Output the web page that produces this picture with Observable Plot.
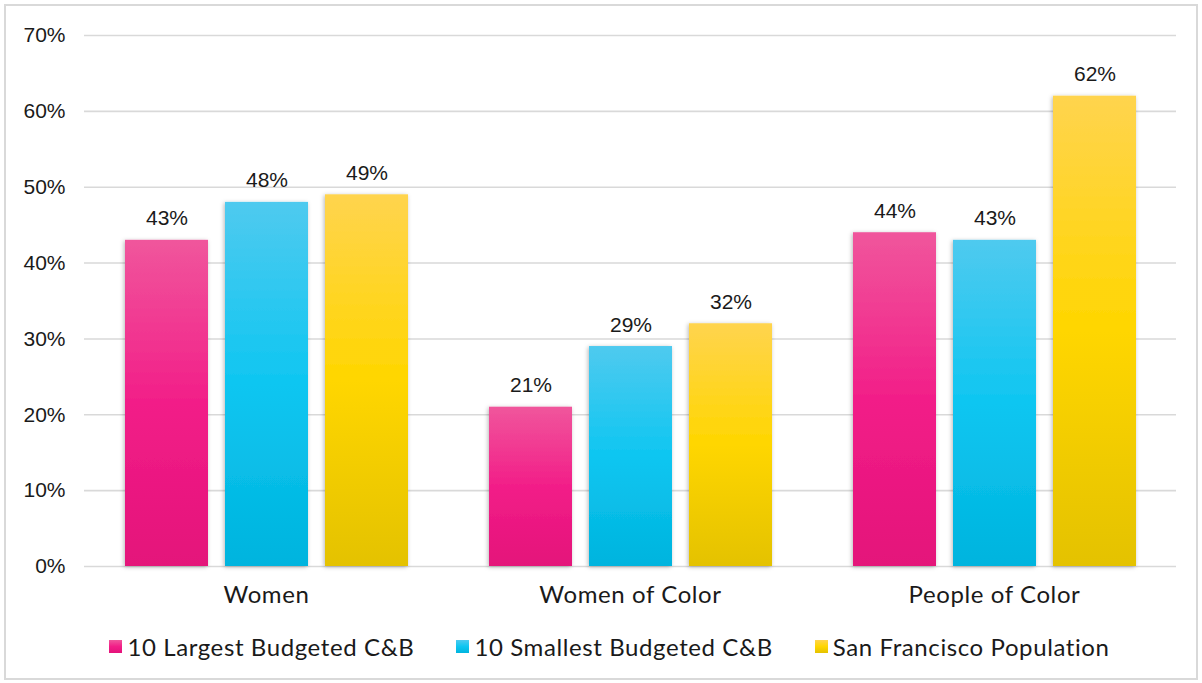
<!DOCTYPE html>
<html>
<head>
<meta charset="utf-8">
<script src="https://cdn.jsdelivr.net/npm/d3@7"></script>
<script src="https://cdn.jsdelivr.net/npm/@observablehq/plot@0.6"></script>
<style>
  html, body { margin: 0; padding: 0; background: #fff; }
  #wrap { position: relative; width: 1202px; height: 683px; overflow: hidden; }
  #frame { position: absolute; left: 4px; top: 4px; width: 1194px; height: 676px; box-sizing: border-box; border: 2px solid #d9d9d9; }
  #chart { position: absolute; left: 0; top: 0; }
  #legend { position: absolute; left: 0; top: 632px; width: 1202px; display: flex; justify-content: center; padding-left: 17px; box-sizing: border-box;
            font-family: Lato, "Open Sans", sans-serif; font-size: 24px; letter-spacing: 0.6px; color: #1a1a1a; gap: 42px; }
  .item { display: flex; align-items: center; }
  .sw { width: 13px; height: 13px; margin-right: 5px; }
</style>
</head>
<body>
<div id="wrap">
  <div id="frame"></div>
  <div id="chart"></div>
  <div id="legend"></div>
</div>
<script>
const categories = ["Women", "Women of Color", "People of Color"];
const series = ["10 Largest Budgeted C&B", "10 Smallest Budgeted C&B", "San Francisco Population"];
const largest = [43, 21, 44];
const smallest = [48, 29, 43];
const sfPopulation = [49, 32, 62];
const yTicks = [0, 10, 20, 30, 40, 50, 60, 70];

const gradients = [
  {id: "gPink", stops: ["#F0569C", "#F21E88", "#E4127A"]},
  {id: "gBlue", stops: ["#4FCAEF", "#0EC6F1", "#00B4DE"]},
  {id: "gYellow", stops: ["#FFD44E", "#FFD600", "#E4C200"]}
];

const valuesBySeries = [largest, smallest, sfPopulation];
const data = [];
categories.forEach((c, i) => series.forEach((s, j) => data.push({category: c, series: s, value: valuesBySeries[j][i]})));

const defs = () => {
  const d = d3.create("svg:defs");
  gradients.forEach(g => {
    const lg = d.append("linearGradient").attr("id", g.id).attr("x1", 0).attr("y1", 0).attr("x2", 0).attr("y2", 1);
    lg.append("stop").attr("offset", "0%").attr("stop-color", g.stops[0]);
    lg.append("stop").attr("offset", "50%").attr("stop-color", g.stops[1]);
    lg.append("stop").attr("offset", "100%").attr("stop-color", g.stops[2]);
  });
  const f = d.append("filter").attr("id", "shadow").attr("x", "-20%").attr("y", "-10%").attr("width", "140%").attr("height", "120%");
  f.append("feDropShadow").attr("dx", -1).attr("dy", 1).attr("stdDeviation", 2.2).attr("flood-color", "#000").attr("flood-opacity", 0.28);
  return d.node();
};

const font = "'Liberation Sans', Arial, sans-serif";
const chart = Plot.plot({
  width: 1202,
  height: 615,
  marginTop: 35,
  marginBottom: 49,
  marginLeft: 84,
  marginRight: 26,
  style: {background: "transparent", color: "#1a1a1a"},
  fx: {domain: categories, padding: 0, label: null},
  x: {domain: series, paddingInner: 0.174, paddingOuter: 0.4, axis: null},
  y: {domain: [0, 70], label: null},
  color: {domain: series, range: gradients.map(g => `url(#${g.id})`)},
  marks: [
    defs,
    Plot.gridY(yTicks, {stroke: "#d9d9d9", strokeOpacity: 1, strokeWidth: 1.6}),
    Plot.axisY(yTicks, {tickSize: 0, tickPadding: 19, tickFormat: d => d + "%", fontSize: 21, fontFamily: font, label: null}),
    Plot.axisFx({anchor: "bottom", tickSize: 0, tickPadding: 19, fontSize: 24, fontFamily: "Lato, sans-serif", label: null}),
    Plot.barY(data, {fx: "category", x: "series", y: "value", fill: "series"}),
    Plot.text(data, {fx: "category", x: "series", y: "value", text: d => d.value + "%", lineAnchor: "bottom", dy: -15, fontSize: 21, fontFamily: font, fill: "#1a1a1a"})
  ]
});
d3.select(chart).selectAll("g[aria-label='bar'] rect").attr("filter", "url(#shadow)");
d3.select(chart).selectAll("g[aria-label='fx-axis tick label'] text").style("letter-spacing", "0.6px");
document.getElementById("chart").appendChild(chart);

const legend = d3.select("#legend");
series.forEach((s, i) => {
  const it = legend.append("div").attr("class", "item");
  it.append("div").attr("class", "sw").style("background", `linear-gradient(${gradients[i].stops.join(",")})`);
  it.append("span").text(s);
});
</script>
</body>
</html>
